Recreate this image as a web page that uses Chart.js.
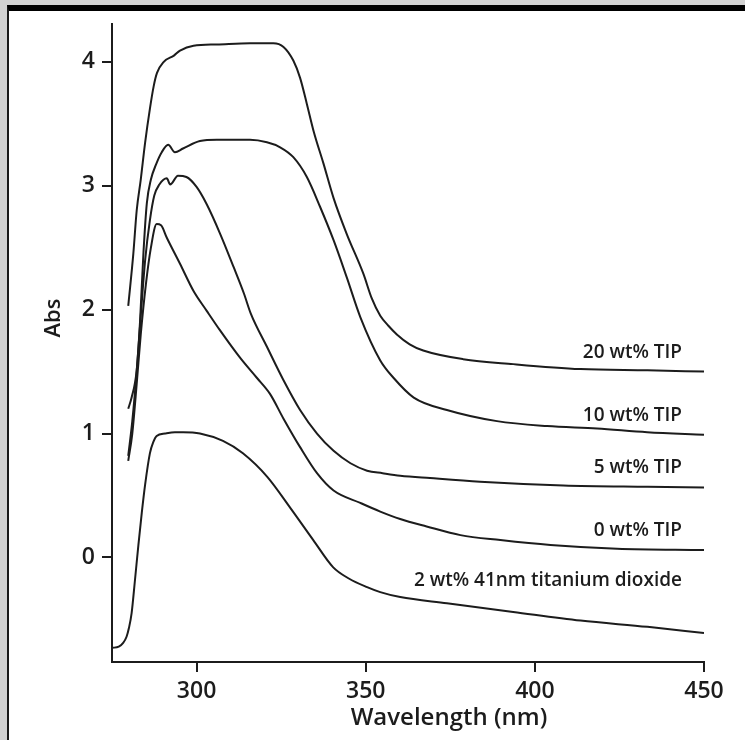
<!DOCTYPE html>
<html>
<head>
<meta charset="utf-8">
<title>Abs vs Wavelength</title>
<script src="https://cdn.jsdelivr.net/npm/chart.js@4.4.1/dist/chart.umd.min.js"></script>
<style>
html,body{margin:0;padding:0;background:#d2d2d2;width:745px;height:740px;overflow:hidden}
.frame{position:absolute;left:7px;top:5px;right:0;bottom:0;background:#fff;border-top:6px solid #000;border-left:2px solid #1a1a1a}
#chart{position:absolute;left:0;top:0}
</style>
</head>
<body>
<div class="frame"></div>
<canvas id="chart" width="745" height="740"></canvas>
<script>
/* ── Series labels ── */
const seriesNames=['20 wt% TIP','10 wt% TIP','5 wt% TIP','0 wt% TIP','2 wt% 41nm titanium dioxide'];

/* ── Wavelength (nm) / absorbance ── */
const wl20=[279.8,281.3,282.3,283.5,284.8,286.2,287.3,288.3,290.3,293.3,295.1,299.1,306.0,315.8,322.7,325.7,328.6,330.6,332.6,334.6,337.5,340.5,344.4,349.3,351.8,354.3,356.7,359.2,363.0,367.0,378.8,393.6,413.5,433.3,450];
const abs20=[2.03,2.45,2.80,3.05,3.35,3.62,3.80,3.91,4.00,4.05,4.09,4.13,4.14,4.15,4.15,4.12,4.01,3.87,3.66,3.44,3.18,2.90,2.61,2.29,2.09,1.95,1.87,1.80,1.72,1.67,1.60,1.56,1.52,1.51,1.50];

const wl10=[279.8,280.8,282.3,283.3,284.3,285.3,286.5,288.0,289.7,291.6,293.6,296.0,301.0,306.0,315.8,320.8,324.7,328.6,332.6,336.5,340.5,344.4,348.4,354.3,358.2,364.2,374.0,388.8,403.6,418.4,433.2,450];
const abs10=[1.20,1.29,1.51,1.91,2.46,2.86,3.05,3.17,3.27,3.33,3.27,3.30,3.36,3.37,3.37,3.35,3.31,3.23,3.07,2.83,2.56,2.26,1.94,1.59,1.45,1.29,1.19,1.10,1.06,1.04,1.01,0.99];

const wl5=[279.8,281.0,282.3,283.5,284.8,286.2,287.5,289.0,291.2,292.2,294.5,297.0,300.0,303.0,307.0,311.0,314.0,316.0,320.8,325.7,330.6,335.6,340.5,345.5,350.4,355.0,360.2,369.0,383.8,408.4,433.3,450];
const abs5=[0.82,1.10,1.50,1.95,2.40,2.72,2.92,3.01,3.06,3.01,3.08,3.07,2.99,2.85,2.61,2.34,2.13,1.97,1.70,1.43,1.19,1.00,0.86,0.76,0.70,0.68,0.66,0.64,0.61,0.58,0.57,0.565];

const wl0=[279.8,281.0,282.3,283.5,285.0,286.5,288.2,289.5,291.2,295.1,299.1,303.0,307.0,312.9,317.8,321.7,325.7,330.6,335.6,340.5,348.4,354.3,360.2,368.0,378.0,389.8,404.6,424.3,450];
const abs0=[0.78,1.00,1.40,1.80,2.20,2.50,2.69,2.68,2.58,2.37,2.15,1.99,1.83,1.61,1.45,1.32,1.12,0.89,0.68,0.54,0.44,0.37,0.31,0.25,0.18,0.14,0.10,0.07,0.06];

const wlTi=[275.0,277.0,278.3,279.3,280.0,280.8,281.8,282.8,283.8,284.8,286.2,287.2,288.2,290.7,293.6,296.0,301.0,307.8,313.7,320.9,327.7,334.5,340.4,345.0,350.4,354.3,360.2,374.0,393.6,413.5,433.3,450];
const absTi=[-0.73,-0.72,-0.69,-0.64,-0.57,-0.45,-0.18,0.10,0.36,0.59,0.84,0.93,0.98,1.00,1.01,1.01,1.00,0.94,0.84,0.65,0.40,0.14,-0.08,-0.17,-0.24,-0.28,-0.32,-0.37,-0.44,-0.51,-0.56,-0.61];

/* ── Axis ticks ── */
const xTicks=[300,350,400,450];
const yTicks=[0,1,2,3,4];

const ink='#1c1c1c';
const seriesX=[wl20,wl10,wl5,wl0,wlTi];
const seriesY=[abs20,abs10,abs5,abs0,absTi];

const datasets=seriesNames.map((name,i)=>({
  label:name,
  data:seriesX[i].map((x,j)=>({x,y:seriesY[i][j]})),
  borderColor:ink,
  borderWidth:2,
  pointRadius:0,
  cubicInterpolationMode:'monotone',
  fill:false
}));

/* curve names at the right end, axis titles */
const textPlugin={
  id:'textPlugin',
  afterDraw(chart){
    const {ctx,chartArea:a}=chart;
    ctx.save();
    ctx.fillStyle=ink;
    ctx.font='600 19px "Open Sans"';
    ctx.textAlign='right';
    ctx.textBaseline='alphabetic';
    chart.data.datasets.forEach((ds,i)=>{
      const pts=chart.getDatasetMeta(i).data;
      const end=pts[pts.length-1];
      const lift=i===4?47:14;
      ctx.fillText(ds.label,a.right-22,end.y-lift);
    });
    ctx.font='600 24px "Open Sans"';
    ctx.textAlign='center';
    ctx.fillText('Wavelength (nm)',(a.left+a.right)/2+41,725);
    ctx.translate(60,(a.top+a.bottom)/2-25);
    ctx.rotate(-Math.PI/2);
    ctx.font='600 22px "Open Sans"';
    ctx.fillText('Abs',0,0);
    ctx.restore();
  }
};

const tickFont={family:'"Open Sans"',size:23,weight:'600'};

new Chart(document.getElementById('chart'),{
  type:'line',
  data:{datasets},
  options:{
    responsive:false,
    animation:false,
    layout:{padding:{top:24,right:41,left:0,bottom:0}},
    plugins:{legend:{display:false},tooltip:{enabled:false}},
    scales:{
      x:{
        type:'linear',min:275,max:450,
        afterFit:s=>{s.height=78},
        afterBuildTicks:s=>{s.ticks=xTicks.map(v=>({value:v}))},
        grid:{display:true,drawOnChartArea:false,drawTicks:true,tickLength:10,color:ink,lineWidth:2},
        border:{display:true,color:ink,width:2},
        ticks:{color:ink,font:tickFont,padding:6,maxRotation:0}
      },
      y:{
        type:'linear',min:-0.844,max:4.305,
        afterFit:s=>{s.width=112},
        afterBuildTicks:s=>{s.ticks=yTicks.map(v=>({value:v}))},
        grid:{display:true,drawOnChartArea:false,drawTicks:true,tickLength:10,color:ink,lineWidth:2},
        border:{display:true,color:ink,width:2},
        ticks:{color:ink,font:tickFont,padding:7}
      }
    }
  },
  plugins:[textPlugin]
});
</script>
</body>
</html>
